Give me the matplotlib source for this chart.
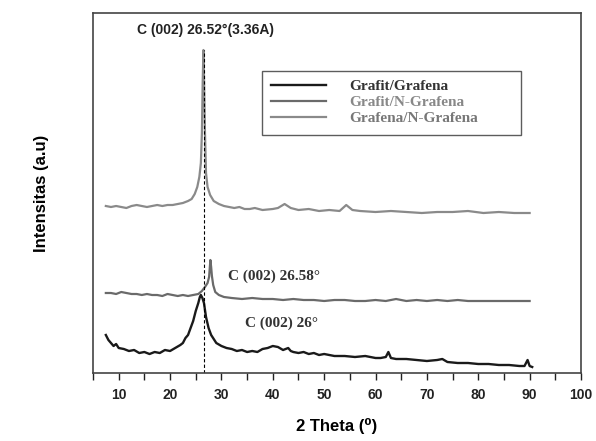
import matplotlib
matplotlib.use("Agg")
import matplotlib.pyplot as plt

# XRD patterns, intensity in arbitrary units
gg_x = [7.5, 8.0, 8.5, 9.0, 9.5, 10.0, 11.0, 12.0, 13.0, 14.0, 15.0, 16.0, 17.0, 18.0,
        19.0, 20.0, 21.0, 22.0, 22.5, 23.0, 23.5, 24.0, 24.5, 25.0, 25.5, 25.8, 26.0,
        26.3, 26.6, 27.0, 27.5, 28.0, 28.5, 29.0, 30.0, 31.0, 32.0, 33.0, 34.0, 35.0,
        36.0, 37.0, 38.0, 39.0, 40.0, 41.0, 42.0, 43.0, 43.5, 44.0, 45.0, 46.0, 47.0,
        48.0, 49.0, 50.0, 51.0, 52.0, 54.0, 56.0, 58.0, 60.0, 61.0, 62.0, 62.5, 63.0,
        64.0, 66.0, 68.0, 70.0, 72.0, 73.0, 74.0, 76.0, 78.0, 80.0, 82.0, 84.0, 86.0,
        88.0, 89.0, 89.6, 90.0, 90.5]
gg_y = [38, 33, 30, 27, 29, 25, 24, 22, 23, 20, 21, 19, 21, 20,
        23, 22, 25, 28, 30, 35, 38, 45, 52, 62, 70, 76, 78,
        75, 70, 56, 45, 38, 34, 30, 27, 25, 24, 22, 23, 21,
        22, 21, 24, 25, 27, 26, 23, 25, 22, 21, 20, 21, 19,
        20, 18, 19, 18, 17, 17, 16, 17, 15, 15, 16, 21, 15,
        14, 14, 13, 12, 13, 14, 11, 10, 10, 9, 9, 8, 8,
        7, 7, 13, 7, 6]

gng_x = [7.5, 8.5, 9.5, 10.5, 11.5, 12.5, 13.5, 14.5, 15.5, 16.5, 17.5, 18.5, 19.5,
         20.5, 21.5, 22.5, 23.5, 24.5, 25.5, 26.2, 26.8, 27.3, 27.6, 27.85, 28.0,
         28.15, 28.4, 28.8, 29.5, 30.5, 32.0, 34.0, 36.0, 38.0, 40.0, 42.0, 44.0,
         46.0, 48.0, 50.0, 52.0, 54.0, 56.0, 58.0, 60.0, 62.0, 64.0, 66.0, 68.0,
         70.0, 72.0, 74.0, 76.0, 78.0, 80.0, 82.0, 84.0, 86.0, 88.0, 90.0]
gng_y = [80, 80, 79, 81, 80, 79, 79, 78, 79, 78, 78, 77, 79,
         78, 77, 78, 77, 78, 79, 82, 86, 90, 96, 113, 106,
         97, 88, 81, 78, 76, 75, 74, 75, 74, 74, 73, 74,
         73, 73, 72, 73, 73, 72, 72, 73, 72, 74, 72, 73,
         72, 73, 72, 73, 72, 72, 72, 72, 72, 72, 72]

nng_x = [7.5, 8.5, 9.5, 10.5, 11.5, 12.5, 13.5, 14.5, 15.5, 16.5, 17.5, 18.5, 19.5,
         20.5, 21.5, 22.5, 23.5, 24.2, 24.8, 25.3, 25.7, 26.0, 26.2, 26.35, 26.5,
         26.65, 26.8, 27.0, 27.3, 27.8, 28.5, 29.5, 30.5, 31.5, 32.5, 33.5, 34.5,
         35.5, 36.5, 38.0, 40.0, 41.0, 42.3, 43.5, 45.0, 47.0, 49.0, 51.0, 53.0,
         54.3, 55.5, 57.0, 60.0, 63.0, 66.0, 69.0, 72.0, 75.0, 78.0, 81.0, 84.0,
         87.0, 90.0]
nng_y = [167, 166, 167, 166, 165, 167, 168, 167, 166, 167, 168, 167, 168,
         168, 169, 170, 172, 174, 179, 186, 196, 210, 240, 290, 323,
         285, 240, 200, 186, 178, 172, 169, 167, 166, 165, 166, 164,
         164, 165, 163, 164, 165, 169, 165, 163, 164, 162, 163, 162,
         168, 163, 162, 161, 162, 161, 160, 161, 161, 162, 160, 161,
         160, 160]

labels = ["Grafit/Grafena", "Grafit/N-Grafena", "Grafena/N-Grafena"]
colors = ["#1a1a1a", "#6a6a6a", "#8a8a8a"]
ticks = [10, 20, 30, 40, 50, 60, 70, 80, 90, 100]
peak_pos = 26.52

fig = plt.figure(figsize=(5.96, 4.41), dpi=100)
ax = fig.add_axes([93 / 596, 1 - 373 / 441, 488 / 596, 360 / 441])

ax.plot(gg_x, gg_y, color=colors[0], lw=1.7, label=labels[0])
ax.plot(gng_x, gng_y, color=colors[1], lw=1.6, label=labels[1])
ax.plot(nng_x, nng_y, color=colors[2], lw=1.6, label=labels[2])

ax.vlines(peak_pos, 0, max(nng_y), colors="black", linestyles=(0, (3, 2)), lw=0.8)

ax.text(13.5, 343, "C (002) 26.52\u00b0(3.36A)", fontsize=10, fontweight="bold",
        family="Liberation Sans", va="center", color="#222222")
ax.text(31.2, 97, "C (002) 26.58\u00b0", fontsize=11, fontweight="bold",
        family="Liberation Serif", va="center", color="#333333")
ax.text(34.5, 50, "C (002) 26\u00b0", fontsize=11, fontweight="bold",
        family="Liberation Serif", va="center", color="#333333")

leg = ax.legend(loc="upper left", bbox_to_anchor=(0.346, 0.83, 0.531, 0.01),
                mode="expand", fancybox=False, edgecolor="#333333",
                prop={"family": "Liberation Serif", "weight": "bold", "size": 11},
                handlelength=3.6, handletextpad=1.5, labelspacing=0.15,
                borderpad=0.6, borderaxespad=0)
leg.get_frame().set_linewidth(1.0)
for txt, c in zip(leg.get_texts(), ["#333333", "#888888", "#777777"]):
    txt.set_color(c)

ax.set_xlim(5, 100)
ax.set_ylim(0, 360)
ax.set_xticks(ticks)
ax.set_xticks([t - 5 for t in ticks], minor=True)
ax.set_yticks([])
ax.tick_params(axis="x", which="both", direction="out", length=5, width=1,
               colors="#222222", labelsize=10, pad=6)
for lab in ax.get_xticklabels():
    lab.set_fontweight("bold")
    lab.set_family("Liberation Sans")
for side in ["left", "bottom", "right", "top"]:
    ax.spines[side].set_linewidth(1.2)
    ax.spines[side].set_color("#444444")

ax.set_xlabel("2 Theta (\u2070)", fontsize=12, fontweight="bold",
              family=["Liberation Sans", "DejaVu Sans"], labelpad=11)
ax.set_ylabel("Intensitas (a.u)", fontsize=12, fontweight="bold",
              family="Liberation Sans", labelpad=32)

fig.savefig("out.png", dpi=100)
